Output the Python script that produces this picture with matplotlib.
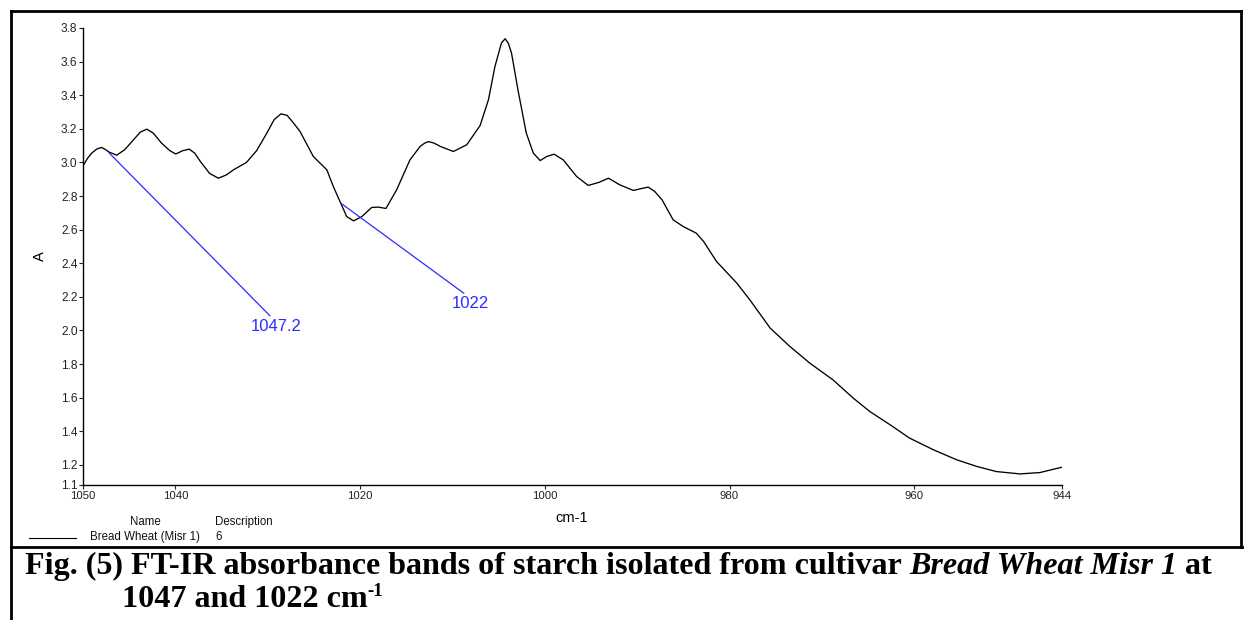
import matplotlib
matplotlib.use("Agg")
import matplotlib.pyplot as plt
from matplotlib.lines import Line2D

# ---- data ----
wavenumber = [1050.0, 1049.5, 1049.06, 1048.5, 1048.0, 1047.6, 1047.2, 1046.35, 1045.5, 1044.7,
              1043.8, 1043.1, 1042.4, 1041.5, 1040.6, 1039.96, 1039.2, 1038.5, 1037.9, 1037.3,
              1036.3, 1035.35, 1034.5, 1033.7, 1032.3, 1031.2, 1030.1, 1029.3, 1028.56, 1027.9,
              1027.2, 1026.5, 1025.06, 1023.6, 1022.9, 1022.1, 1021.45, 1020.7, 1019.8, 1018.74,
              1018.03, 1017.2, 1016.04, 1014.6, 1013.5, 1013.0, 1012.6, 1012.0, 1011.3, 1009.9,
              1008.45, 1007.0, 1006.1, 1005.4, 1004.7, 1004.3, 1003.95, 1003.6, 1002.9, 1002.0,
              1001.24, 1000.5, 999.8, 999.0, 998.0, 996.55, 995.3, 994.2, 993.1, 991.9,
              990.4, 989.5, 988.8, 988.1, 987.3, 986.1, 985.0, 983.6, 982.8, 981.4,
              979.2, 977.8, 975.6, 973.45, 971.3, 968.8, 966.6, 964.8, 962.6, 960.5,
              957.9, 955.4, 953.2, 951.1, 948.55, 946.4, 944.0]
absorbance = [2.98, 3.025, 3.055, 3.080, 3.089, 3.078, 3.062, 3.043, 3.075, 3.124,
              3.180, 3.198, 3.175, 3.115, 3.070, 3.050, 3.070, 3.079, 3.055, 3.006,
              2.935, 2.906, 2.925, 2.956, 3.00, 3.070, 3.174, 3.255, 3.289, 3.280,
              3.234, 3.184, 3.035, 2.956, 2.857, 2.758, 2.678, 2.652, 2.678, 2.732,
              2.734, 2.726, 2.837, 3.015, 3.095, 3.115, 3.124, 3.115, 3.095, 3.065,
              3.105, 3.22, 3.373, 3.57, 3.71, 3.736, 3.71, 3.65, 3.43, 3.174,
              3.055, 3.011, 3.035, 3.049, 3.015, 2.916, 2.863, 2.88, 2.906, 2.867,
              2.833, 2.845, 2.853, 2.827, 2.777, 2.658, 2.618, 2.579, 2.529, 2.41,
              2.281, 2.182, 2.014, 1.904, 1.805, 1.706, 1.597, 1.517, 1.438, 1.359,
              1.289, 1.23, 1.19, 1.16, 1.146, 1.154, 1.186]

peak_labels = ["1047.2", "1022"]
peak_x = [1047.2, 1022.1]
peak_y = [3.058, 2.758]

x_ticks = [1050, 1040, 1020, 1000, 980, 960, 944]
y_ticks = [1.08, 1.2, 1.4, 1.6, 1.8, 2.0, 2.2, 2.4, 2.6, 2.8, 3.0, 3.2, 3.4, 3.6, 3.8]
y_tick_labels = ["1.1", "1.2", "1.4", "1.6", "1.8", "2.0", "2.2", "2.4", "2.6", "2.8",
                 "3.0", "3.2", "3.4", "3.6", "3.8"]

legend_name = "Bread Wheat (Misr 1)"
legend_desc = "6"

W, H = 1244, 620
plt.rcParams['font.family'] = ['Liberation Sans', 'DejaVu Sans']
fig = plt.figure(figsize=(W / 100, H / 100), dpi=100)

def fx(px):
    return px / W

def fy(py):
    return 1 - py / H

ax = fig.add_axes([fx(83), fy(485), fx(1062) - fx(83), fy(28) - fy(485)])
ax.plot(wavenumber, absorbance, color='black', lw=0.95, solid_joinstyle='round')
ax.set_xlim(1050, 944)
ax.set_ylim(1.08, 3.8)
ax.set_xticks(x_ticks)
ax.set_xticklabels([str(v) for v in x_ticks])
ax.set_yticks(y_ticks)
ax.set_yticklabels(y_tick_labels)
for s in ['top', 'right']:
    ax.spines[s].set_visible(False)
for s in ['left', 'bottom']:
    ax.spines[s].set_linewidth(1.0)
    ax.spines[s].set_color('black')
ax.tick_params(axis='both', length=3, width=0.8, pad=1, colors='#222222')
ax.tick_params(axis='x', labelsize=8.2)
ax.tick_params(axis='y', labelsize=8.6)
ax.set_xlabel("cm-1", fontsize=10.5, labelpad=2)
ax.set_ylabel("A", fontsize=10.5, labelpad=10)
ax.xaxis.set_label_coords((572 - 83) / (1062 - 83), -(509 - 485) / (485 - 28) - 0.005)

blue = '#2b2bff'
offsets = [(167, -166), (130, -93)]
relx = [0.44, 0.42]
for lab, px_, py_, off, rx in zip(peak_labels, peak_x, peak_y, offsets, relx):
    ax.annotate(lab, xy=(px_, py_), xytext=off, textcoords='offset pixels',
                ha='center', va='top', fontsize=12, color=blue,
                arrowprops=dict(arrowstyle='-', color=blue, lw=0.9,
                                shrinkA=0, shrinkB=0, relpos=(rx, 1.0)))

# legend area
fig.text(fx(145), fy(522), "Name", fontsize=8.3, ha='center', va='center', color='#111111')
fig.text(fx(215), fy(522), "Description", fontsize=8.3, ha='left', va='center', color='#111111')
fig.add_artist(Line2D([fx(29), fx(76)], [fy(538), fy(538)], color='black', lw=0.8,
                      transform=fig.transFigure))
fig.text(fx(90), fy(537), legend_name, fontsize=8.3, ha='left', va='center', color='#111111')
fig.text(fx(215), fy(537), legend_desc, fontsize=8.3, ha='left', va='center', color='#111111')

# frame lines
lw_frame = 2.0
for (x0, y0, x1, y1) in [(11, 11, 1241, 11), (11, 11, 11, 620), (11, 547, 1244, 547),
                         (1241, 11, 1241, 547)]:
    fig.add_artist(Line2D([fx(x0), fx(x1)], [fy(y0), fy(y1)], color='black', lw=lw_frame,
                          transform=fig.transFigure, solid_capstyle='projecting'))

# caption
fig.canvas.draw()
renderer = fig.canvas.get_renderer()
cap_size = 23.1
serif = ['Liberation Serif', 'DejaVu Serif']

def put(x_px, base_px, s, style='normal', size=cap_size):
    t = fig.text(fx(x_px), fy(base_px), s, fontsize=size, fontweight='bold', fontstyle=style,
                 family=serif, ha='left', va='baseline', color='black')
    bb = t.get_window_extent(renderer)
    return bb.x1

x = put(25, 574, "Fig. (5) FT-IR absorbance bands of starch isolated from cultivar ")
x = put(x, 574, "Bread Wheat Misr 1", style='italic')
x = put(x, 574, " at")
x = put(122, 607, "1047 and 1022 cm")
put(x, 596, "-1", size=13.5)

fig.savefig("out.png", dpi=100)
